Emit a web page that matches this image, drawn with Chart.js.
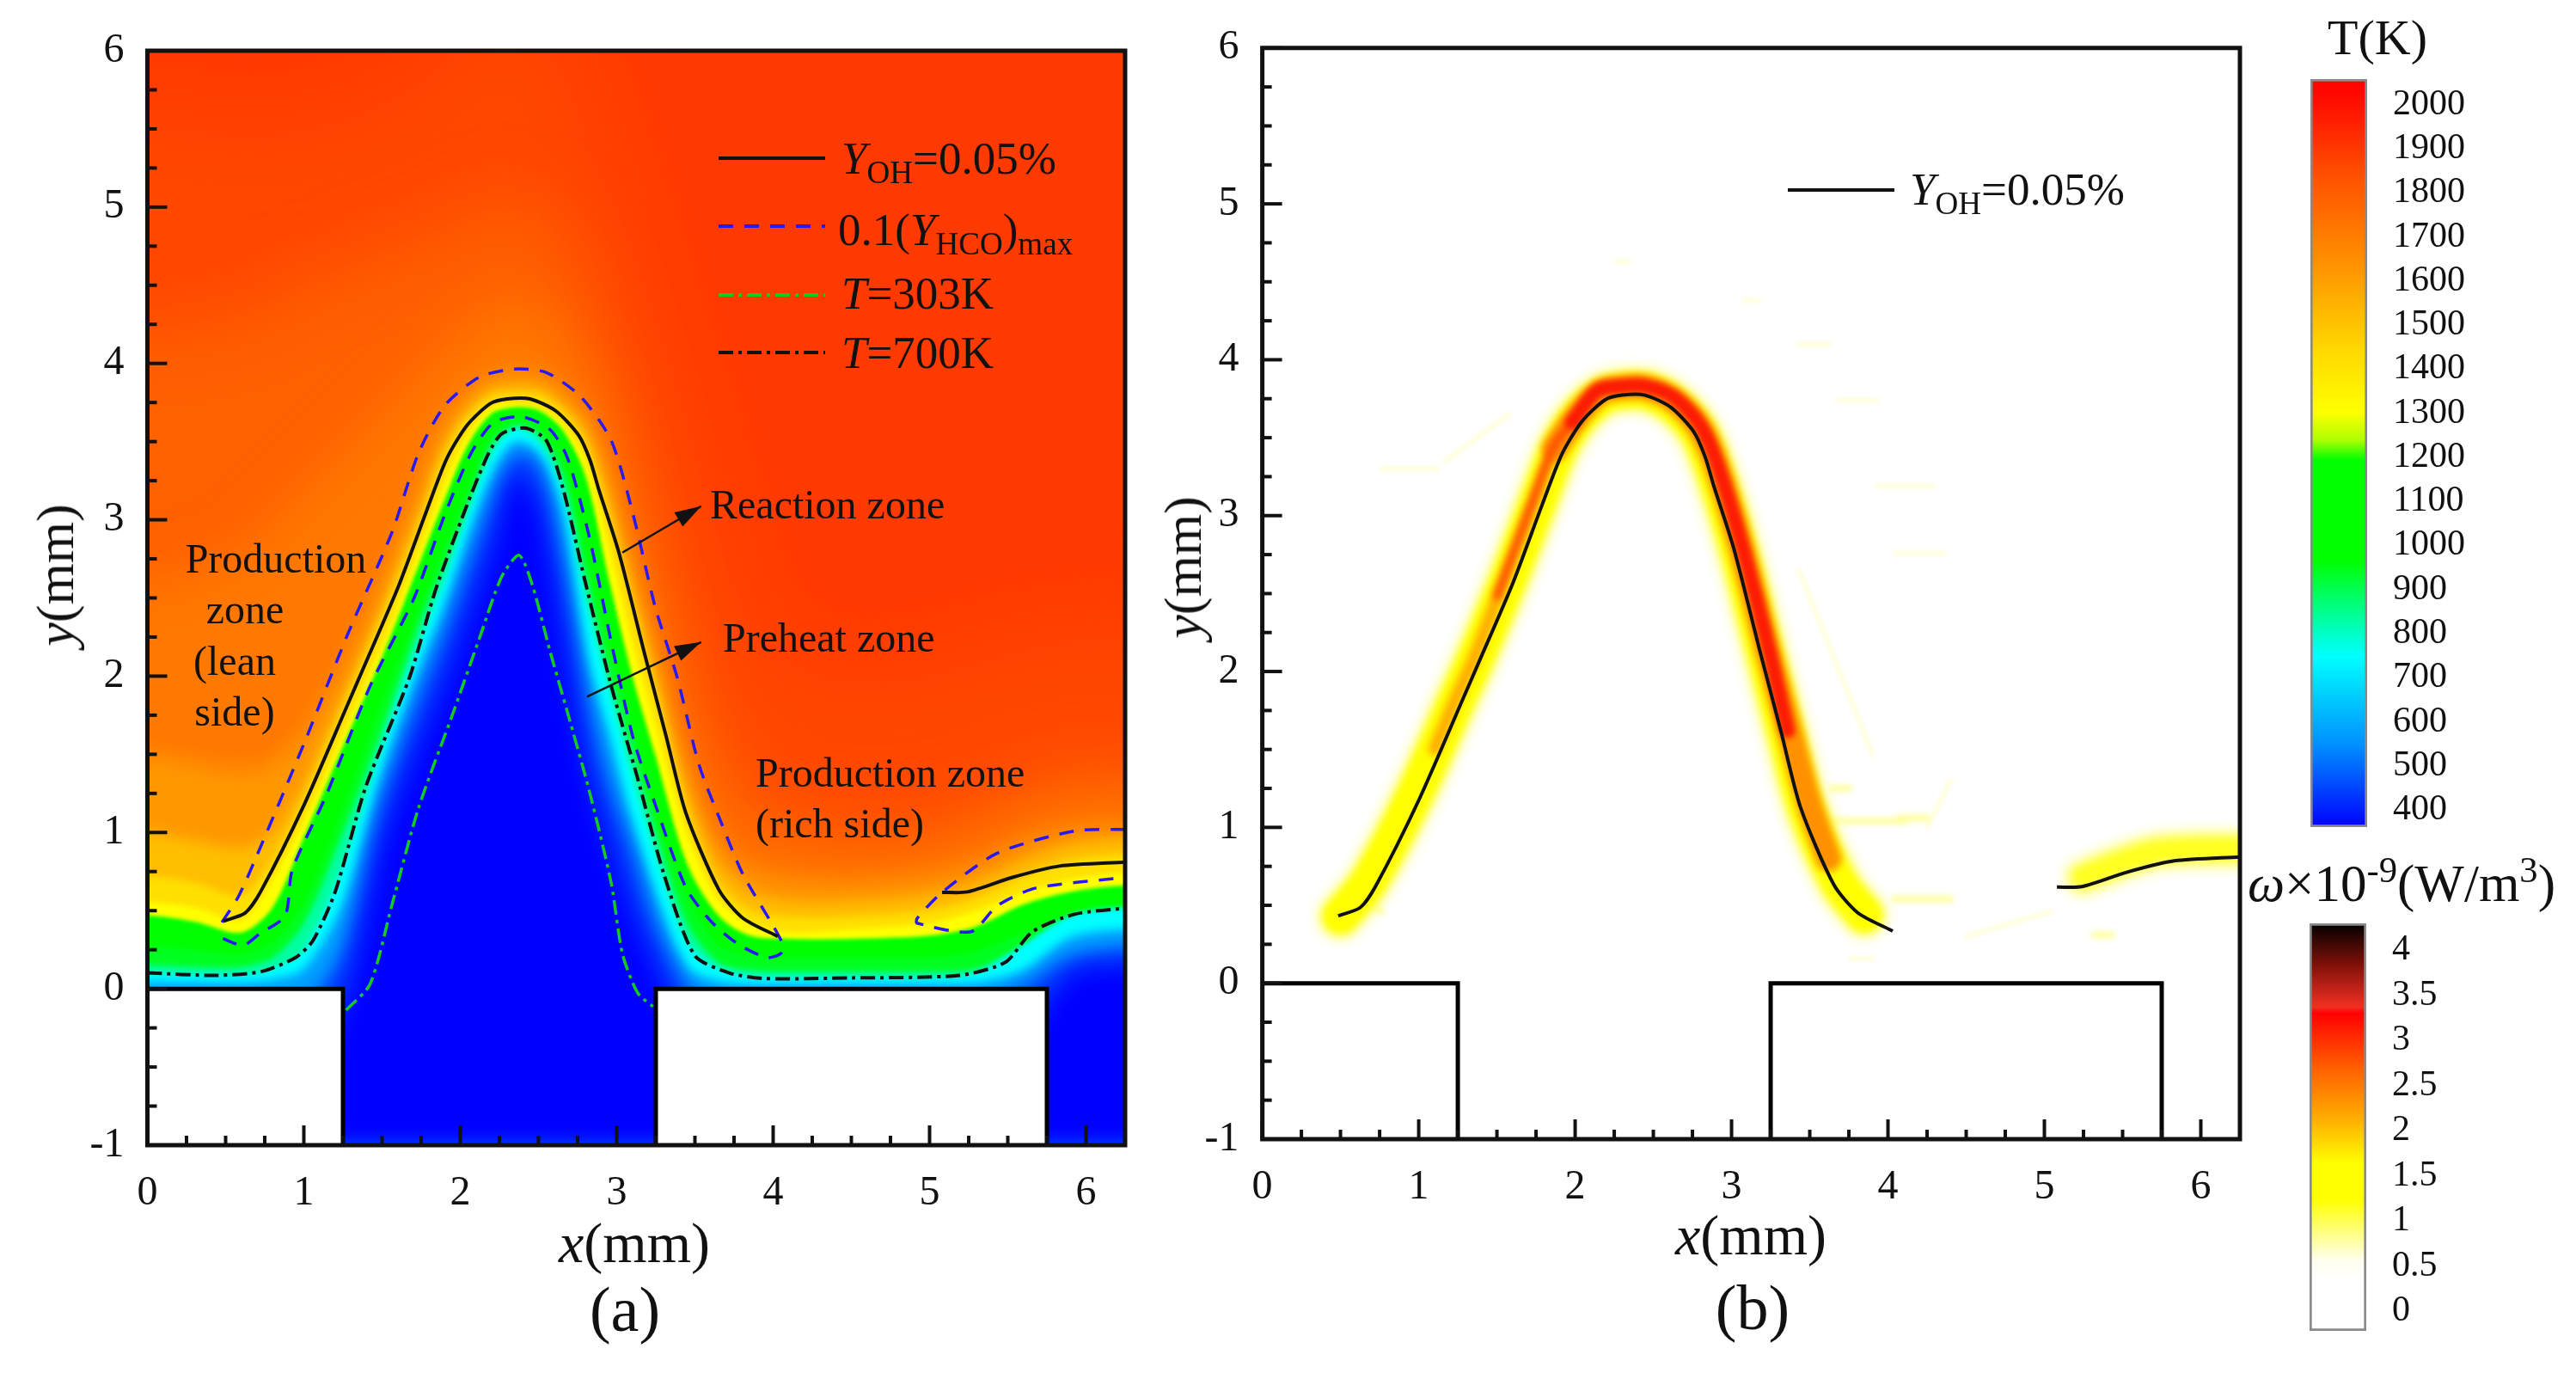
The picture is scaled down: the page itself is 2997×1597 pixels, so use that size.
<!DOCTYPE html>
<html>
<head>
<meta charset="utf-8">
<script src="https://cdn.jsdelivr.net/npm/chart.js@4/dist/chart.umd.min.js"></script>
<style>
  html, body { margin: 0; background: #fff; }
  #page { position: relative; width: 2997px; height: 1597px; overflow: hidden; filter: blur(0.7px); }
  canvas { position: absolute; }
  .t { position: absolute; font-family: "Liberation Serif", serif; color: #111; white-space: nowrap; line-height: 1; transform: translate(0, -50%); }
  .c { transform: translate(-50%, -50%); }
  .r { transform: translate(-50%, -50%) rotate(-90deg); }
  sub, sup { font-size: 70%; line-height: 0; }
</style>
</head>
<body>
<div id="page">
  <canvas id="panel-a" width="1340" height="1597" style="left:0;top:0"></canvas>
  <canvas id="panel-b" width="1300" height="1597" style="left:1340px;top:0"></canvas>
  <canvas id="bar-t" width="309" height="870" style="left:2688px;top:92px"></canvas>
  <canvas id="bar-w" width="309" height="474" style="left:2687px;top:1074px"></canvas>

  <span class="t r" style="left:64px;top:669px;font-size:62px"><i>y</i>(mm)</span>
  <span class="t c" style="left:738px;top:1446px;font-size:66px"><i>x</i>(mm)</span>
  <span class="t c" style="left:727px;top:1523px;font-size:74px">(a)</span>
  <span class="t r" style="left:1376px;top:660px;font-size:62px"><i>y</i>(mm)</span>
  <span class="t c" style="left:2037px;top:1437px;font-size:66px"><i>x</i>(mm)</span>
  <span class="t c" style="left:2039px;top:1521px;font-size:74px">(b)</span>

  <span class="t" style="left:979px;top:184px;font-size:53px"><i>Y</i><sub>OH</sub>=0.05%</span>
  <span class="t" style="left:975px;top:267px;font-size:53px">0.1(<i>Y</i><sub>HCO</sub>)<sub>max</sub></span>
  <span class="t" style="left:979px;top:341px;font-size:53px"><i>T</i>=303K</span>
  <span class="t" style="left:979px;top:410px;font-size:53px"><i>T</i>=700K</span>
  <span class="t" style="left:2222px;top:220px;font-size:53px"><i>Y</i><sub>OH</sub>=0.05%</span>

  <span class="t c" style="left:321px;top:650px;font-size:48px">Production</span>
  <span class="t c" style="left:285px;top:709px;font-size:48px">zone</span>
  <span class="t c" style="left:273px;top:769px;font-size:48px">(lean</span>
  <span class="t c" style="left:273px;top:828px;font-size:48px">side)</span>
  <span class="t" style="left:826px;top:587px;font-size:48px">Reaction zone</span>
  <span class="t" style="left:841px;top:742px;font-size:48px">Preheat zone</span>
  <span class="t" style="left:879px;top:899px;font-size:48px">Production zone</span>
  <span class="t" style="left:879px;top:958px;font-size:48px">(rich side)</span>

  <span class="t c" style="left:2766px;top:44px;font-size:58px">T(K)</span>
  <span class="t" style="left:2615px;top:1027px;font-size:61px"><i>ω</i>×10<sup>-9</sup>(W/m<sup>3</sup>)</span>
</div>
<script>
// shared x samples of the temperature isotherms in panel (a), mm
const fieldX = [-0.6, 0, 0.3, 0.6, 0.8, 1, 1.25, 1.5, 1.75, 1.9, 2.05, 2.2, 2.35, 2.5, 2.65, 2.8, 2.95, 3.1, 3.25, 3.45, 3.65, 3.85, 4.1, 4.5, 5, 5.3, 5.6, 5.9, 6.25, 6.9];

// isotherm heights, mm
const t1900 = [5.6, 5.6, 5.55, 5.5, 5.5, 5.55, 5.6, 5.7, 5.85, 6, 6.15, 6.3, 6.35, 6.3, 6.05, 5.7, 5.25, 4.8, 4.3, 3.7, 3, 2.4, 2.1, 2, 2.05, 2.15, 2.25, 2.3, 2.3, 2.3];
const t1800 = [4.2, 4.2, 4.25, 4.3, 4.4, 4.5, 4.6, 4.7, 4.8, 4.85, 4.95, 5, 5.05, 5, 4.85, 4.55, 4.1, 3.6, 3, 2.2, 1.6, 1.3, 1.15, 1.05, 1.08, 1.18, 1.3, 1.4, 1.42, 1.42];
const t1700 = [2.6, 2.6, 2.7, 2.8, 3, 3.2, 3.45, 3.7, 3.95, 4.1, 4.25, 4.35, 4.4, 4.35, 4.2, 3.95, 3.55, 2.95, 2.4, 1.65, 1.15, 0.95, 0.88, 0.84, 0.88, 0.98, 1.12, 1.2, 1.22, 1.22];
const t1600 = [1.5, 1.5, 1.45, 1.4, 1.45, 1.65, 2.05, 2.6, 3.22, 3.6, 3.8, 3.92, 3.94, 3.93, 3.83, 3.66, 3.3, 2.72, 2.15, 1.4, 0.92, 0.76, 0.7, 0.68, 0.72, 0.8, 0.94, 1.02, 1.04, 1.04];
const t1500 = [1, 1, 0.95, 0.9, 1, 1.31, 1.87, 2.45, 3.1, 3.5, 3.72, 3.84, 3.86, 3.85, 3.75, 3.58, 3.15, 2.58, 2.02, 1.28, 0.8, 0.62, 0.56, 0.56, 0.6, 0.68, 0.82, 0.92, 0.96, 0.96];
const t1400 = [0.72, 0.72, 0.68, 0.6, 0.82, 1.22, 1.8, 2.38, 3, 3.42, 3.66, 3.79, 3.81, 3.8, 3.7, 3.5, 3.03, 2.46, 1.91, 1.15, 0.68, 0.5, 0.46, 0.46, 0.5, 0.58, 0.72, 0.82, 0.86, 0.86];
const t1300 = [0.55, 0.55, 0.52, 0.44, 0.7, 1.07, 1.63, 2.2, 2.84, 3.24, 3.55, 3.72, 3.74, 3.72, 3.62, 3.38, 2.83, 2.22, 1.68, 0.99, 0.57, 0.42, 0.36, 0.38, 0.42, 0.5, 0.62, 0.7, 0.74, 0.74];
const t1200 = [0.47, 0.47, 0.43, 0.36, 0.52, 0.97, 1.55, 2.12, 2.75, 3.13, 3.48, 3.68, 3.72, 3.7, 3.58, 3.28, 2.62, 2, 1.48, 0.8, 0.47, 0.34, 0.32, 0.32, 0.34, 0.4, 0.54, 0.62, 0.66, 0.66];
const t1000 = [0.27, 0.27, 0.25, 0.22, 0.3, 0.55, 1.15, 1.84, 2.46, 2.83, 3.2, 3.55, 3.65, 3.6, 3.4, 2.83, 2.2, 1.68, 1.1, 0.6, 0.28, 0.22, 0.2, 0.2, 0.2, 0.24, 0.36, 0.46, 0.52, 0.52];
const t800 = [0.15, 0.15, 0.14, 0.14, 0.2, 0.42, 1, 1.66, 2.36, 2.72, 3.1, 3.48, 3.6, 3.55, 3.3, 2.66, 2.03, 1.53, 1, 0.42, 0.17, 0.12, 0.11, 0.11, 0.11, 0.13, 0.27, 0.42, 0.47, 0.47];
const t700 = [0.1, 0.1, 0.09, 0.09, 0.13, 0.25, 0.8, 1.55, 2.24, 2.62, 3.05, 3.42, 3.58, 3.5, 3.2, 2.5, 1.92, 1.36, 0.86, 0.3, 0.13, 0.08, 0.07, 0.07, 0.07, 0.1, 0.28, 0.47, 0.52, 0.52];
const t550 = [0.045, 0.045, 0.04, 0.04, 0.06, 0.13, 0.55, 1.38, 2.08, 2.45, 2.9, 3.28, 3.5, 3.42, 3.05, 2.15, 1.63, 1.06, 0.6, 0.14, 0.05, 0.03, 0.03, 0.03, 0.03, 0.04, 0.12, 0.33, 0.38, 0.38];
const t450 = [-0.1, -0.1, -0.1, -0.1, -0.1, -0.1, 0.25, 1.2, 1.9, 2.27, 2.7, 3.1, 3.42, 3.35, 2.7, 1.88, 1.3, 0.88, 0.4, 0.02, -0.1, -0.1, -0.1, -0.1, -0.1, -0.1, 0.02, 0.2, 0.26, 0.26];
const t380 = [-0.5, -0.5, -0.5, -0.5, -0.5, -0.5, -0.1, 0.95, 1.62, 1.98, 2.4, 2.82, 3.3, 3.1, 2.35, 1.48, 0.97, 0.52, 0.15, -0.3, -0.5, -0.5, -0.5, -0.5, -0.5, -0.5, -0.3, 0.1, 0.15, 0.15];

// contour lines
const ohLeftX = [0.485, 0.625, 0.723, 1.003, 1.283, 1.375, 1.603, 1.787, 1.915, 2.043, 2.19, 2.3, 2.446, 2.611, 2.757, 2.83, 2.886, 3.014, 3.179, 3.316, 3.442, 3.653, 3.807, 4.03];
const ohLeftY = [0.433, 0.485, 0.62, 1.18, 1.825, 2.038, 2.57, 3.064, 3.394, 3.604, 3.742, 3.773, 3.773, 3.696, 3.54, 3.38, 3.192, 2.79, 2.14, 1.615, 1.125, 0.634, 0.452, 0.335];
const ohRightX = [5.08, 5.24, 5.53, 5.83, 6.25];
const ohRightY = [0.617, 0.62, 0.713, 0.785, 0.81];
const hcoX = [0.476, 0.583, 0.72, 1.003, 1.283, 1.563, 1.732, 1.9, 2.124, 2.349, 2.55, 2.769, 2.965, 3.106, 3.246, 3.386, 3.526, 3.666, 3.807, 4.05, 4.05, 3.96, 3.78, 3.61, 3.442, 3.246, 3.106, 2.965, 2.825, 2.685, 2.573, 2.39, 2.21, 2.068, 1.9, 1.704, 1.424, 1.143, 0.926, 0.88, 0.72, 0.61, 0.442];
const hcoY = [0.425, 0.592, 0.9, 1.573, 2.274, 2.919, 3.423, 3.73, 3.914, 3.964, 3.942, 3.788, 3.507, 3.03, 2.442, 1.994, 1.434, 1.068, 0.732, 0.31, 0.227, 0.2, 0.283, 0.424, 0.648, 1.18, 1.6, 2.218, 2.89, 3.396, 3.578, 3.66, 3.62, 3.423, 3.03, 2.498, 1.937, 1.237, 0.76, 0.467, 0.354, 0.278, 0.34];
const hcoRightX = [6.25, 5.926, 5.435, 5.08, 4.92, 4.92, 5.264, 5.435, 5.68, 6.25];
const hcoRightY = [1.02, 1.009, 0.869, 0.617, 0.45, 0.42, 0.365, 0.533, 0.645, 0.712];
const t303X = [1.27, 1.424, 1.563, 1.732, 1.956, 2.124, 2.265, 2.376, 2.461, 2.573, 2.685, 2.825, 2.965, 3.036, 3.133, 3.232];
const t303Y = [-0.137, 0.031, 0.536, 1.153, 1.77, 2.247, 2.637, 2.773, 2.582, 2.162, 1.77, 1.265, 0.676, 0.227, -0.025, -0.114];
const t700X = [0, 0.431, 0.726, 0.947, 1.059, 1.2, 1.396, 1.676, 1.843, 2.04, 2.18, 2.265, 2.419, 2.55, 2.657, 2.797, 2.965, 3.133, 3.302, 3.498, 3.722, 3.947, 4.5, 5.19, 5.484, 5.657, 5.926, 6.25];
const t700Y = [0.102, 0.086, 0.11, 0.2, 0.31, 0.62, 1.293, 1.994, 2.554, 3.087, 3.423, 3.55, 3.586, 3.507, 3.199, 2.61, 1.937, 1.349, 0.732, 0.214, 0.101, 0.066, 0.07, 0.086, 0.17, 0.365, 0.477, 0.516];

// slot walls
const wallLeftX = [0, 0, 1.25, 1.25];
const wallLeftY = [-1, 0, 0, -1];
const wallRightX = [3.25, 3.25, 5.75, 5.75];
const wallRightY = [-1, 0, 0, -1];

// zone arrows in panel (a): x0, y0, x1, y1
const reactionArrow = [3.036, 2.79, 3.54, 3.087];
const preheatArrow = [2.81, 1.868, 3.54, 2.218];

// heat release ridge in panel (b)
const ridgeX = [0.5, 0.68, 0.97, 1.25, 1.35, 1.57, 1.76, 1.89, 2.02, 2.18, 2.3, 2.45, 2.62, 2.78, 2.88, 3.04, 3.21, 3.35, 3.48, 3.69, 3.85];
const ridgeY = [0.43, 0.65, 1.2, 1.83, 2.05, 2.58, 3.08, 3.42, 3.63, 3.77, 3.8, 3.8, 3.72, 3.55, 3.32, 2.8, 2.14, 1.6, 1.12, 0.64, 0.44];
const ridgeMidLeftX = [1.1, 1.25, 1.35, 1.55, 1.74, 1.87, 2];
const ridgeMidLeftY = [1.5, 1.86, 2.08, 2.6, 3.1, 3.43, 3.62];
const ridgeMidX = [1.87, 2, 2.16, 2.3, 2.45, 2.63, 2.79, 2.9, 3.06, 3.23, 3.37, 3.5, 3.62];
const ridgeMidY = [3.43, 3.62, 3.79, 3.82, 3.82, 3.74, 3.57, 3.33, 2.8, 2.14, 1.62, 1.14, 0.8];
const ridgeCoreLeftX = [1.5, 1.73, 1.86, 1.98];
const ridgeCoreLeftY = [2.48, 3.1, 3.44, 3.6];
const ridgeCoreX = [1.98, 2.14, 2.3, 2.45, 2.63, 2.8, 2.91, 3.07, 3.24, 3.36];
const ridgeCoreY = [3.6, 3.8, 3.83, 3.83, 3.76, 3.58, 3.33, 2.8, 2.14, 1.62];
const ridgeEndX = [5.25, 5.45, 5.7, 6, 6.5];
const ridgeEndY = [0.68, 0.76, 0.84, 0.86, 0.86];

// faint patches around the flame in panel (b), null breaks the stroke
const paleSpeckX = [2.26, 2.35, null, 3.08, 3.17, null, 3.43, 3.63, null, 3.68, 3.93, null, 3.93, 4.29, null, 0.76, 1.12, null, 1.17, 1.58, null, 3.43, 3.9, null, 4.04, 4.36, null, 4.25, 4.4, null, 3.76, 3.9, null, 4.5, 5.04];
const paleSpeckY = [4.63, 4.63, null, 4.38, 4.38, null, 4.1, 4.1, null, 3.74, 3.74, null, 3.19, 3.19, null, 3.3, 3.3, null, 3.35, 3.65, null, 2.65, 1.47, null, 2.76, 2.76, null, 1, 1.3, null, 0.16, 0.16, null, 0.3, 0.46];
const yellowSpeckX = [3.65, 4.11, null, 3.64, 3.75, null, 4.07, 4.25, null, 4.04, 4.4, null, 5.32, 5.43, null, 0.68, 0.76];
const yellowSpeckY = [1.04, 1.04, null, 1.25, 1.25, null, 1.06, 1.06, null, 0.54, 0.54, null, 0.31, 0.31, null, 0.52, 0.46];

// colour bars
const tempTicks = [2000, 1900, 1800, 1700, 1600, 1500, 1400, 1300, 1200, 1100, 1000, 900, 800, 700, 600, 500, 400];
const tempStops = [2058, 2000, 1840, 1643, 1444, 1303, 1240, 1194, 967, 848, 748, 549, 361];
const tempColors = ["#ff0000", "#ff1000", "#ff5000", "#ff9000", "#ffd800", "#ffff00", "#b0ff00", "#00ff00", "#00ff00", "#00ff90", "#00ffff", "#0090ff", "#0000ff"];
const omegaTicks = [4, 3.5, 3, 2.5, 2, 1.5, 1, 0.5, 0];
const omegaStops = [4.295, 3.857, 3.37, 3.3, 2.69, 2.11, 1.63, 1.24, 0.56, 0.36, -0.219];
const omegaColors = ["#000000", "#7a1008", "#f03020", "#ff0000", "#ff6000", "#ffb000", "#ffff00", "#ffff00", "#fffff0", "#ffffff", "#ffffff"];

const INK = "#111111";
const BLUE = "#2a18f0";
const GREEN = "#14cc1e";
const DASH = [17, 13];
const DASH_DOT = [17, 6, 4, 6];
const SERIF = "'Liberation Serif', serif";

function toPoints(xs, ys) {
  return xs.map((x, i) => ({ x: x, y: ys[i] }));
}

function band(ys, color, blur) {
  return {
    data: toPoints(fieldX, ys),
    backgroundColor: color,
    fill: "start",
    borderWidth: 0,
    tension: 0.3,
    capBezierPoints: false,
    blur: blur,
  };
}

function wall(xs, ys) {
  return {
    data: toPoints(xs, ys),
    borderColor: "#000000",
    borderWidth: 5,
    backgroundColor: "#ffffff",
    fill: "start",
    tension: 0,
  };
}

function contour(xs, ys, color, dash, width) {
  return {
    data: toPoints(xs, ys),
    borderColor: color,
    borderWidth: width || 4,
    borderDash: dash || [],
    fill: false,
    tension: 0.25,
    capBezierPoints: false,
  };
}

function stroke(xs, ys, color, width, blur) {
  return {
    data: toPoints(xs, ys),
    borderColor: color,
    borderWidth: width,
    fill: false,
    tension: 0.3,
    capBezierPoints: false,
    borderCapStyle: "round",
    blur: blur,
  };
}

// ctx.filter is handed on from one dataset to the next, so a dataset's fill gets its own blur
const blurPlugin = {
  id: "blurField",
  beforeDatasetsDraw(chart) {
    const metas = chart.getSortedVisibleDatasetMetas();
    chart.$drawQueue = metas.slice().reverse();
    setBlur(chart, chart.$drawQueue[0]);
  },
  afterDatasetDraw(chart) {
    chart.$drawQueue.shift();
    setBlur(chart, chart.$drawQueue[0]);
  },
  afterDatasetsDraw(chart) {
    chart.ctx.filter = "none";
  },
};

function setBlur(chart, meta) {
  const blur = meta ? chart.data.datasets[meta.index].blur : 0;
  chart.ctx.filter = blur ? "blur(" + blur + "px)" : "none";
}

const framePlugin = {
  id: "frameTicks",
  beforeDatasetsDraw(chart) {
    const area = chart.chartArea;
    const bg = chart.options.plugins.frameTicks.background;
    if (bg) {
      chart.ctx.fillStyle = bg;
      chart.ctx.fillRect(area.left, area.top, area.width, area.height);
    }
  },
  afterDatasetsDraw(chart) {
    const ctx = chart.ctx;
    const area = chart.chartArea;
    ctx.save();
    ctx.strokeStyle = "#111111";
    ctx.lineWidth = 4;
    chart.scales.x.ticks.forEach((t) => {
      const len = Number.isInteger(t.value) ? 23 : 11;
      const px = chart.scales.x.getPixelForValue(t.value);
      ctx.beginPath();
      ctx.moveTo(px, area.bottom);
      ctx.lineTo(px, area.bottom - len);
      ctx.stroke();
    });
    chart.scales.y.ticks.forEach((t) => {
      const len = Number.isInteger(t.value) ? 23 : 11;
      const py = chart.scales.y.getPixelForValue(t.value);
      ctx.beginPath();
      ctx.moveTo(area.left, py);
      ctx.lineTo(area.left + len, py);
      ctx.stroke();
    });
    ctx.lineWidth = 5;
    ctx.strokeRect(area.left, area.top, area.width, area.height);
    ctx.restore();
  },
};

function drawArrow(chart, arrow) {
  const ctx = chart.ctx;
  const x0 = chart.scales.x.getPixelForValue(arrow[0]);
  const y0 = chart.scales.y.getPixelForValue(arrow[1]);
  const x1 = chart.scales.x.getPixelForValue(arrow[2]);
  const y1 = chart.scales.y.getPixelForValue(arrow[3]);
  const a = Math.atan2(y1 - y0, x1 - x0);
  ctx.strokeStyle = INK;
  ctx.fillStyle = INK;
  ctx.lineWidth = 2.5;
  ctx.beginPath();
  ctx.moveTo(x0, y0);
  ctx.lineTo(x1, y1);
  ctx.stroke();
  ctx.beginPath();
  ctx.moveTo(x1, y1);
  ctx.lineTo(x1 - 32 * Math.cos(a - 0.3), y1 - 32 * Math.sin(a - 0.3));
  ctx.lineTo(x1 - 32 * Math.cos(a + 0.3), y1 - 32 * Math.sin(a + 0.3));
  ctx.closePath();
  ctx.fill();
}

const notesPlugin = {
  id: "notes",
  afterDatasetsDraw(chart) {
    const ctx = chart.ctx;
    const opts = chart.options.plugins.notes;
    ctx.save();
    (opts.keys || []).forEach((k) => {
      ctx.strokeStyle = k.color;
      ctx.lineWidth = 4;
      ctx.setLineDash(k.dash || []);
      ctx.beginPath();
      ctx.moveTo(k.from, k.y);
      ctx.lineTo(k.to, k.y);
      ctx.stroke();
    });
    ctx.setLineDash([]);
    (opts.arrows || []).forEach((a) => drawArrow(chart, a));
    ctx.restore();
  },
};

function axisTick(v) {
  return Number.isInteger(v) ? String(v) : "";
}

function panel(id, datasets, geom, plugOpts) {
  // later entries paint over earlier ones
  datasets.forEach((d, i) => {
    d.order = datasets.length - i;
    d.pointRadius = 0;
    d.spanGaps = false;
  });
  return new Chart(document.getElementById(id), {
    type: "line",
    data: { datasets: datasets },
    plugins: [framePlugin, notesPlugin, blurPlugin],
    options: {
      responsive: false,
      devicePixelRatio: 1,
      animation: false,
      layout: { padding: { top: geom.top, right: geom.right, left: 0, bottom: 0 } },
      plugins: {
        legend: { display: false },
        tooltip: { enabled: false },
        frameTicks: { background: plugOpts.background },
        notes: { keys: plugOpts.keys, arrows: plugOpts.arrows },
      },
      scales: {
        x: {
          type: "linear",
          min: 0,
          max: 6.25,
          afterFit: (s) => { s.height = geom.bottom; },
          grid: { display: false, drawTicks: false },
          border: { display: false },
          ticks: {
            stepSize: 0.25, autoSkip: false, maxRotation: 0, padding: geom.xPad,
            color: INK, font: { family: SERIF, size: 48 }, callback: axisTick,
          },
        },
        y: {
          type: "linear",
          min: -1,
          max: 6,
          afterFit: (s) => { s.width = geom.left; },
          grid: { display: false, drawTicks: false },
          border: { display: false },
          ticks: {
            stepSize: 0.25, autoSkip: false, padding: 27,
            color: INK, font: { family: SERIF, size: 48 }, callback: axisTick,
          },
        },
      },
    },
  });
}

panel("panel-a", [
  band(t1900, "#ff4800", 50),
  band(t1800, "#ff6000", 40),
  band(t1700, "#ff7800", 30),
  band(t1600, "#ff9800", 14),
  band(t1500, "#ffbe00", 8),
  band(t1400, "#ffe000", 5),
  band(t1300, "#ffff00", 3),
  band(t1200, "#00ff00", 2),
  band(t1000, "#00ff20", 3),
  band(t800, "#00ffa0", 3),
  band(t700, "#00ffff", 3),
  band(t550, "#00a0ff", 6),
  band(t450, "#0040ff", 10),
  band(t380, "#0000ff", 14),
  wall(wallLeftX, wallLeftY),
  wall(wallRightX, wallRightY),
  contour(t303X, t303Y, GREEN, DASH_DOT, 3.5),
  contour(t700X, t700Y, INK, DASH_DOT),
  contour(hcoX, hcoY, BLUE, DASH, 3.5),
  contour(hcoRightX, hcoRightY, BLUE, DASH, 3.5),
  contour(ohLeftX, ohLeftY, INK),
  contour(ohRightX, ohRightY, INK),
], { top: 59, right: 31, bottom: 265, left: 171.5, xPad: 28 }, {
  background: "#ff3a00",
  keys: [
    { from: 836, to: 960, y: 184, color: INK },
    { from: 836, to: 960, y: 263, color: BLUE, dash: DASH },
    { from: 836, to: 960, y: 343, color: GREEN, dash: DASH_DOT },
    { from: 836, to: 960, y: 410, color: INK, dash: DASH_DOT },
  ],
  arrows: [reactionArrow, preheatArrow],
});

panel("panel-b", [
  stroke(ridgeX, ridgeY, "#ffffc0", 60, 6),
  stroke(ridgeEndX, ridgeEndY, "#ffffc0", 50, 6),
  stroke(paleSpeckX, paleSpeckY, "#ffffd8", 5, 2),
  stroke(yellowSpeckX, yellowSpeckY, "#ffffa0", 8, 3),
  stroke(ridgeX, ridgeY, "#ffff00", 44, 5),
  stroke(ridgeEndX, ridgeEndY, "#ffff20", 30, 6),
  stroke(ridgeMidLeftX, ridgeMidLeftY, "#ffa800", 14, 5),
  stroke(ridgeMidX, ridgeMidY, "#ff9000", 30, 4),
  stroke(ridgeCoreLeftX, ridgeCoreLeftY, "#ff4000", 8, 4),
  stroke(ridgeCoreX, ridgeCoreY, "#fc1c04", 17, 3),
  wall(wallLeftX, wallLeftY),
  wall(wallRightX, wallRightY),
  contour(ohLeftX, ohLeftY, INK),
  contour(ohRightX, ohRightY, INK),
], { top: 51.5, right: 34, bottom: 272, left: 128.6, xPad: 28 }, {
  keys: [{ from: 740, to: 864, y: 221, color: INK }],
});

function colorBar(id, range, stops, colors, ticks, font) {
  new Chart(document.getElementById(id), {
    type: "bar",
    data: {
      labels: [""],
      datasets: [{
        data: [range],
        barPercentage: 1,
        categoryPercentage: 1,
        borderWidth: 3,
        borderColor: "#8a8a8a",
        borderSkipped: false,
        backgroundColor: (ctx) => {
          const area = ctx.chart.chartArea;
          if (!area) return "#ffffff";
          const g = ctx.chart.ctx.createLinearGradient(0, area.top, 0, area.bottom);
          stops.forEach((v, i) => {
            g.addColorStop((range[1] - v) / (range[1] - range[0]), colors[i]);
          });
          return g;
        },
      }],
    },
    options: {
      responsive: false,
      devicePixelRatio: 1,
      animation: false,
      plugins: { legend: { display: false }, tooltip: { enabled: false } },
      scales: {
        x: { display: false },
        y: {
          position: "right",
          min: range[0],
          max: range[1],
          afterBuildTicks: (s) => { s.ticks = ticks.map((v) => ({ value: v })); },
          // the scale adds tick padding above and below, the bar must fill the canvas height
          afterFit: (s) => { s.width = 243; s.paddingTop = 0; s.paddingBottom = 0; },
          grid: { display: false, drawTicks: false },
          border: { display: false },
          ticks: {
            autoSkip: false, crossAlign: "near", padding: 30,
            color: INK, font: { family: SERIF, size: font },
            callback: (v) => String(v),
          },
        },
      },
    },
  });
}

colorBar("bar-t", [361, 2058], tempStops, tempColors, tempTicks, 42);
colorBar("bar-w", [-0.219, 4.295], omegaStops, omegaColors, omegaTicks, 42);
</script>
</body>
</html>
